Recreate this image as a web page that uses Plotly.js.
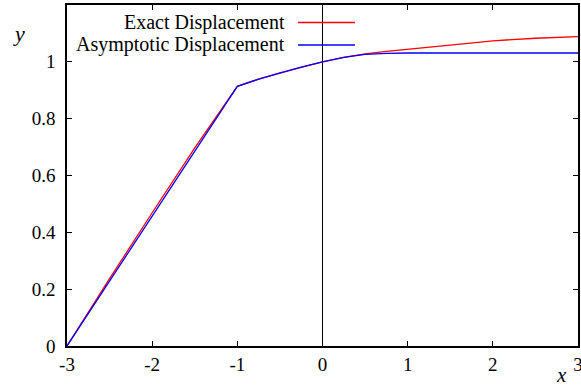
<!DOCTYPE html>
<html>
<head>
<meta charset="utf-8">
<script src="https://cdn.plot.ly/plotly-3.0.1.min.js"></script>
<style>html,body{margin:0;padding:0;background:#fff;}</style>
</head>
<body>
<div id="chart"></div>
<script>
// Data
const exactX = [-3, -2.5, -2, -1.5, -1, -0.75, -0.5, -0.25, 0, 0.25, 0.5, 0.75, 1, 1.25, 1.5, 2, 2.5, 3];
const exactY = [0, 0.237, 0.469, 0.697, 0.914, 0.939, 0.961, 0.981, 1.0, 1.016, 1.028, 1.037, 1.045, 1.052, 1.059, 1.074, 1.083, 1.089];
const asymX = [-3, -2.5, -2, -1.5, -1, -0.75, -0.5, -0.25, 0, 0.25, 0.5, 0.75, 1, 1.5, 2, 2.5, 3];
const asymY = [0, 0.2285, 0.457, 0.6855, 0.914, 0.939, 0.961, 0.981, 1.0, 1.016, 1.026, 1.030, 1.031, 1.031, 1.031, 1.031, 1.031];
const seriesNames = ["Exact Displacement", "Asymptotic Displacement"];
const xTickVals = [-3, -2, -1, 0, 1, 2, 3];
const xTickText = ["-3", "-2", "-1", "0", "1", "2", "3"];
const yTickVals = [0, 0.2, 0.4, 0.6, 0.8, 1];
const yTickText = ["0", "0.2", "0.4", "0.6", "0.8", "1"];

const FONT = "Liberation Serif";
const traces = [
  {x: exactX, y: exactY, mode: "lines", name: seriesNames[0], line: {color: "#ff0000", width: 1.3}, showlegend: false},
  {x: asymX, y: asymY, mode: "lines", name: seriesNames[1], line: {color: "#0000ff", width: 1.3}, showlegend: false}
];

const axisCommon = {
  showgrid: false,
  showline: true, linecolor: "#000", linewidth: 1.6,
  mirror: "allticks", ticks: "inside", ticklen: 5, tickwidth: 1, tickcolor: "#000",
  tickfont: {family: FONT, size: 19, color: "#000"},
  ticklabeloverflow: "allow"
};

const layout = {
  width: 581, height: 389,
  margin: {l: 67, r: 3, t: 5, b: 43},
  paper_bgcolor: "#fff", plot_bgcolor: "#fff",
  font: {family: FONT, color: "#000"},
  xaxis: Object.assign({}, axisCommon, {
    range: [-3, 3], tickmode: "array", tickvals: xTickVals, ticktext: xTickText,
    zeroline: true, zerolinecolor: "#000", zerolinewidth: 1, ticklabelstandoff: 0
  }),
  yaxis: Object.assign({}, axisCommon, {
    range: [0, 1.2], tickmode: "array", tickvals: yTickVals, ticktext: yTickText,
    zeroline: false, ticklabelstandoff: 6
  }),
  annotations: [
    {text: "<i>y</i>", xref: "paper", yref: "paper", x: -0.093, y: 0.915, xanchor: "center", yanchor: "middle", showarrow: false, font: {family: FONT, size: 22}},
    {text: "<i>x</i>", xref: "paper", yref: "paper", x: 0.967, y: -0.126, xanchor: "center", yanchor: "bottom", showarrow: false, font: {family: FONT, size: 21}},
    {text: seriesNames[0], xref: "paper", yref: "paper", x: 0.4305, y: 0.9487, xanchor: "right", yanchor: "middle", showarrow: false, font: {family: FONT, size: 20}},
    {text: seriesNames[1], xref: "paper", yref: "paper", x: 0.4305, y: 0.8827, xanchor: "right", yanchor: "middle", showarrow: false, font: {family: FONT, size: 20}}
  ],
  shapes: [
    {type: "line", xref: "paper", yref: "paper", x0: 0.452, x1: 0.5636, y0: 0.9487, y1: 0.9487, line: {color: "#ff0000", width: 1.3}},
    {type: "line", xref: "paper", yref: "paper", x0: 0.452, x1: 0.5636, y0: 0.8827, y1: 0.8827, line: {color: "#0000ff", width: 1.3}}
  ]
};

Plotly.newPlot("chart", traces, layout, {displayModeBar: false});
</script>
</body>
</html>
